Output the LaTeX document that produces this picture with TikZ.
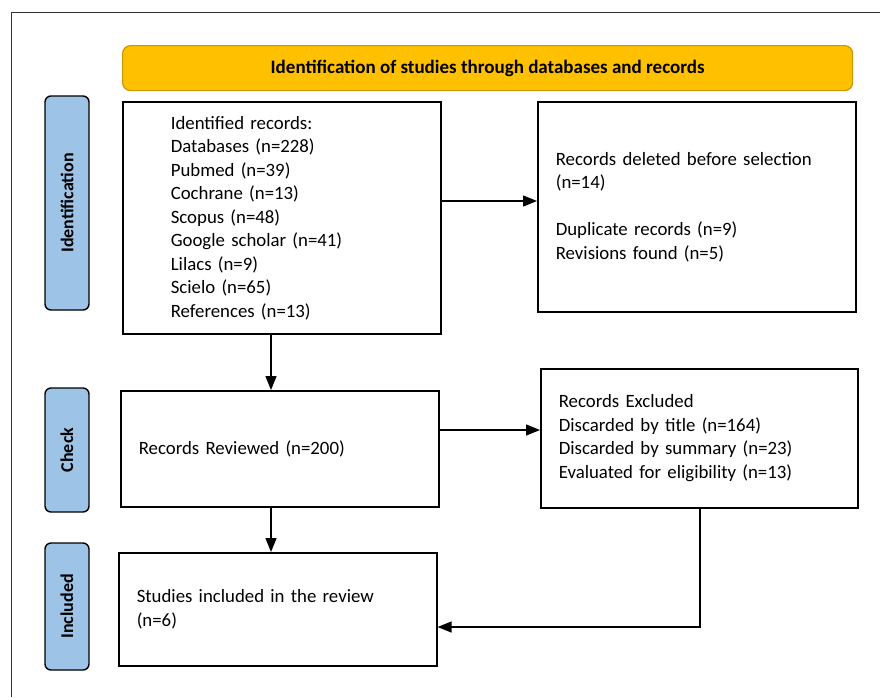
\documentclass[tikz,border=0pt]{standalone}
\usepackage{fontspec}
\setmainfont{Carlito}
\usetikzlibrary{arrows.meta}
\definecolor{bannerfill}{HTML}{FFC000}
\definecolor{bannerline}{HTML}{C99700}
\definecolor{stagefill}{HTML}{9DC3E6}

\begin{document}
\begin{tikzpicture}[x=1pt,y=-1pt,
  recbox/.style={draw,line width=1.6pt,align=left,anchor=north west,inner xsep=18pt,inner ysep=0pt,font=\fontsize{18.8}{23.5}\selectfont},
  stage/.style={draw,line width=1.4pt,fill=stagefill,rounded corners=6pt,rotate=90,inner sep=0pt,minimum height=44pt,font=\bfseries\fontsize{18}{20}\selectfont},
  flow/.style={line width=1.4pt,-{Triangle[length=14pt,width=11pt]}}]
\useasboundingbox (0,0) rectangle (880,697);
\draw [line width=1pt,black!80] (11,697) -- (11,12) -- (880,12);
\node [draw=bannerline,fill=bannerfill,line width=1.2pt,rounded corners=8pt,anchor=north west,minimum width=730pt,minimum height=45pt,font=\bfseries\fontsize{19}{21}\selectfont] (banner) at (122,45) {Identification of studies through databases and records};
\node [stage,minimum width=214pt] (identstage) at (67,203) {Identification};
\node [stage,minimum width=124pt] (checkstage) at (67,450) {Check};
\node [stage,minimum width=127pt] (inclstage) at (67,606.5) {Included};
\node [recbox,inner xsep=48pt,text width=222pt,minimum height=232pt] (ident) at (122,101) {Identified records:\\Databases (n=228)\\Pubmed (n=39)\\Cochrane (n=13)\\Scopus (n=48)\\Google scholar (n=41)\\Lilacs (n=9)\\Scielo (n=65)\\References (n=13)};
\node [recbox,text width=282pt,minimum height=210pt] (deleted) at (537,101) {Records deleted before selection\\(n=14)\\[23.5pt]Duplicate records (n=9)\\Revisions found (n=5)};
\node [recbox,text width=282pt,minimum height=116pt] (reviewed) at (120,390) {Records Reviewed (n=200)};
\node [recbox,text width=281pt,minimum height=139pt] (excluded) at (540,368) {Records Excluded\\Discarded by title (n=164)\\Discarded by summary (n=23)\\Evaluated for eligibility (n=13)};
\node [recbox,text width=282pt,minimum height=113pt] (included) at (118,552) {Studies included in the review\\(n=6)};
\draw [flow] (ident.east |- 0,201) -- (deleted.west |- 0,201);
\draw [flow] (ident.south -| 271,0) -- (reviewed.north -| 271,0);
\draw [flow] (reviewed.east |- 0,430) -- (excluded.west |- 0,430);
\draw [flow] (reviewed.south -| 271,0) -- (included.north -| 271,0);
\draw [flow] (excluded.south -| 700,0) |- (included.east |- 0,627);
\end{tikzpicture}
\end{document}
